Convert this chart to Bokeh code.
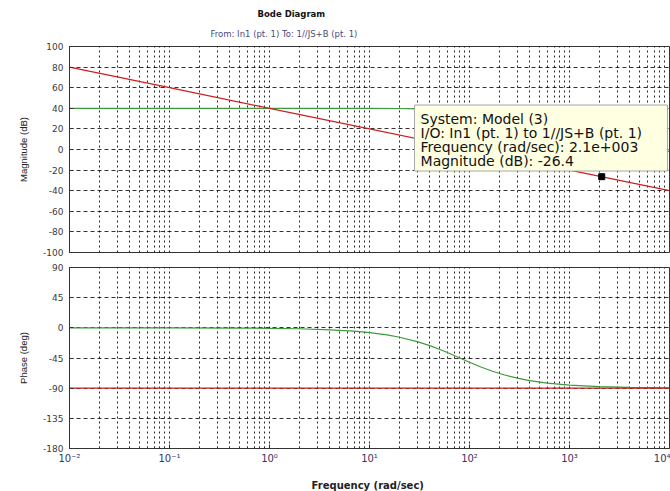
from bokeh.plotting import figure
from bokeh.layouts import column
from bokeh.models import Range1d, FixedTicker, CustomJSTickFormatter, BoxAnnotation, Label, Title
from bokeh.embed import file_html
from bokeh.resources import INLINE

# ---------------- data ----------------
freq_red = [0.01, 0.1, 1, 10, 100, 1000, 10000]
mag_red = [80, 60, 40, 20, 0, -20, -40]
phase_red = [-90, -90, -90, -90, -90, -90, -90]

freq_green_mag = [0.01, 0.1, 1, 10, 20, 30, 50, 80, 120, 200, 400, 1000, 2000, 4000, 10000]
mag_green = [40, 40, 40, 40, 39.8, 39.4, 38.6, 37.0, 34.9, 31.4, 26.0, 18.1, 12.0, 6.0, -2.0]

freq_green_ph = [0.01, 0.1, 0.5, 1, 2, 4, 7, 10, 15, 20, 30, 40, 50, 60, 80, 100, 130,
                 170, 220, 300, 400, 600, 1000, 2000, 4000, 10000]
phase_green = [0, -0.1, -0.4, -0.7, -1.4, -2.9, -5.0, -7.1, -10.6, -14.0, -20.6, -26.6,
               -32.0, -36.9, -45.0, -51.3, -58.4, -64.8, -70.0, -75.1, -78.7, -82.4,
               -85.4, -87.7, -88.9, -89.5]

tip_freq = [2100]
tip_mag = [-26.4]
tip_lines = ["System: Model (3)",
             "I/O: In1 (pt. 1) to 1//JS+B (pt. 1)",
             "Frequency (rad/sec): 2.1e+003",
             "Magnitude (dB): -26.4"]

x_decades = [1e-2, 1e-1, 1e0, 1e1, 1e2, 1e3, 1e4]
mag_ticks = [-100, -80, -60, -40, -20, 0, 20, 40, 60, 80, 100]
phase_ticks = [-180, -135, -90, -45, 0, 45, 90]

title_text = "Bode Diagram"
subtitle_text = "From: In1 (pt. 1)  To: 1//JS+B (pt. 1)"
xlabel = "Frequency  (rad/sec)"

# ---------------- style ----------------
RED = "#cc2020"
GREEN = "#3d9a3d"
FRAME = "#333333"
TICKFONT = "DejaVu Sans"
minor_x = [m * d for d in x_decades[:-1] for m in range(2, 10)]

fmt = CustomJSTickFormatter(code="""
const sup = {"-": "\\u207b", "0": "\\u2070", "1": "\\u00b9", "2": "\\u00b2", "3": "\\u00b3",
             "4": "\\u2074", "5": "\\u2075", "6": "\\u2076", "7": "\\u2077", "8": "\\u2078", "9": "\\u2079"};
const e = Math.round(Math.log10(tick));
return "10" + String(e).split("").map(c => sup[c]).join("");
""")
yfmt = CustomJSTickFormatter(code="return String(Math.round(tick));")

x_range = Range1d(x_decades[0], x_decades[-1])


def style(p, yticks):
    xt = FixedTicker(ticks=x_decades, minor_ticks=minor_x)
    p.xaxis.ticker = xt
    p.xgrid.ticker = xt
    p.yaxis.ticker = FixedTicker(ticks=yticks)
    p.ygrid.ticker = p.yaxis.ticker
    p.xaxis.formatter = fmt
    p.yaxis.formatter = yfmt
    p.background_fill_color = "white"
    p.border_fill_color = "white"
    p.outline_line_color = FRAME
    p.outline_line_width = 1
    for ax in (p.xaxis[0], p.yaxis[0]):
        ax.axis_line_color = FRAME
        ax.major_tick_line_color = FRAME
        ax.minor_tick_line_color = FRAME
        ax.major_tick_in = 4
        ax.major_tick_out = 0
        ax.minor_tick_in = 2
        ax.minor_tick_out = 0
        ax.major_label_text_font = TICKFONT
        ax.major_label_text_font_size = "9px"
        ax.major_label_text_color = "#3a3a3a"
        ax.axis_label_text_font_style = "normal"
        ax.axis_label_text_color = "#222222"
    p.yaxis.minor_tick_line_color = None
    p.yaxis.major_label_standoff = 6
    p.yaxis.axis_label_text_font = "Liberation Sans"
    p.yaxis.axis_label_text_font_size = "9.5px"
    p.yaxis.axis_label_standoff = 11
    p.xgrid.grid_line_color = "black"
    p.xgrid.grid_line_dash = "2 3"
    p.xgrid.grid_line_alpha = 0.85
    p.xgrid.minor_grid_line_color = "black"
    p.xgrid.minor_grid_line_dash = "2 3"
    p.xgrid.minor_grid_line_alpha = 0.85
    p.ygrid.grid_line_color = "black"
    p.ygrid.grid_line_dash = "4 3"
    p.ygrid.grid_line_alpha = 0.8


# ---------------- magnitude plot ----------------
p1 = figure(x_axis_type="log", x_range=x_range, y_range=Range1d(-100, 100),
            frame_width=600, frame_height=206, min_border_left=69, min_border_right=1,
            min_border_top=46, min_border_bottom=7,
            output_backend="svg", toolbar_location=None)
p1.title = None
style(p1, mag_ticks)
p1.xaxis.visible = False
p1.yaxis.axis_label = "Magnitude (dB)"

p1.add_layout(Title(text=subtitle_text, align="left", offset=141, text_font=TICKFONT,
                    text_font_size="8.5px", text_font_style="normal", text_color="#4a4a80",
                    standoff=16), "above")
p1.add_layout(Title(text=title_text, align="left", offset=188, text_font=TICKFONT,
                    text_font_size="8.5px", text_font_style="bold", text_color="#111111",
                    standoff=0), "above")

p1.line(freq_green_mag, mag_green, line_color=GREEN, line_width=1.2)
p1.line(freq_red, mag_red, line_color=RED, line_width=1.2)
p1.scatter(tip_freq, tip_mag, marker="square", size=6, color="black")

tip_box = dict(left=28.2, right=9550, top=43.2, bottom=-20.9)
p1.add_layout(BoxAnnotation(**tip_box, fill_color="#ffffe1", fill_alpha=1.0,
                            line_color="#a8a8a8", line_width=1, line_alpha=1.0))
tip_x = 32.4
tip_y = [29.6, 16.0, 2.4, -11.2]
for t, yy in zip(tip_lines, tip_y):
    p1.add_layout(Label(x=tip_x, y=yy, text=t, text_font=TICKFONT, text_font_size="14px",
                        text_baseline="middle", text_align="left", text_color="#111111"))

# ---------------- phase plot ----------------
p2 = figure(x_axis_type="log", x_range=x_range, y_range=Range1d(-180, 90),
            frame_width=600, frame_height=181, min_border_left=69, min_border_right=1,
            min_border_top=8, min_border_bottom=43,
            output_backend="svg", toolbar_location=None)
style(p2, phase_ticks)
p2.yaxis.axis_label = "Phase (deg)"
p2.xaxis.axis_label = xlabel
p2.xaxis.axis_label_text_font = TICKFONT
p2.xaxis.axis_label_text_font_size = "10px"
p2.xaxis.axis_label_text_font_style = "bold"
p2.xaxis.axis_label_standoff = 13
p2.xaxis.major_label_standoff = 4
p2.xaxis.major_label_text_color = "#3c3260"
p2.xaxis.major_label_text_font_size = "10px"

p2.line(freq_green_ph, phase_green, line_color=GREEN, line_width=1.2)
p2.line(freq_red, phase_red, line_color=RED, line_width=1.2)

layout = column(p1, p2, spacing=0)
open("out.html", "w").write(file_html(layout, INLINE))
